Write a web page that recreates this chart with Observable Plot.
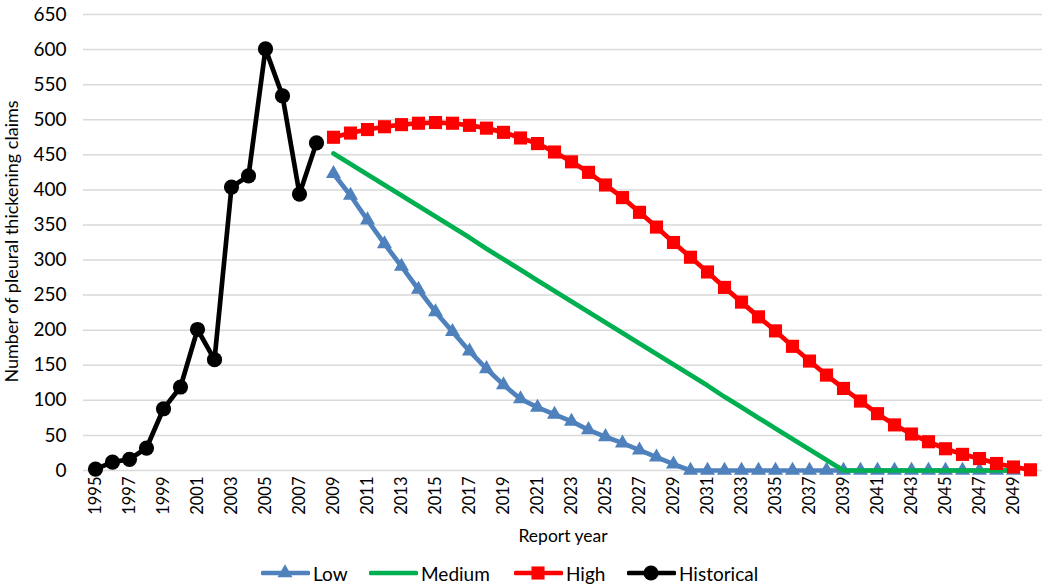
<!DOCTYPE html>
<html><head><meta charset="utf-8">
<script src="https://cdn.jsdelivr.net/npm/d3@7"></script>
<script src="https://cdn.jsdelivr.net/npm/@observablehq/plot@0.6"></script>
<style>
body{margin:0;background:#fff;font-family:Lato,sans-serif;}
#wrap{position:relative;width:1050px;height:588px;overflow:hidden;background:#fff;}
.leg{position:absolute;top:561px;display:flex;align-items:center;font-size:19px;color:#000;height:24px;}
.leg svg{margin-right:3px;}
</style></head><body><div id="wrap"></div>
<script>
const years = [1995,1996,1997,1998,1999,2000,2001,2002,2003,2004,2005,2006,2007,2008,2009,2010,2011,2012,2013,2014,2015,2016,2017,2018,2019,2020,2021,2022,2023,2024,2025,2026,2027,2028,2029,2030,2031,2032,2033,2034,2035,2036,2037,2038,2039,2040,2041,2042,2043,2044,2045,2046,2047,2048,2049,2050];
const xTickYears = [1995,1997,1999,2001,2003,2005,2007,2009,2011,2013,2015,2017,2019,2021,2023,2025,2027,2029,2031,2033,2035,2037,2039,2041,2043,2045,2047,2049];
const yTicks = [0,50,100,150,200,250,300,350,400,450,500,550,600,650];

const historicalYears = [1995,1996,1997,1998,1999,2000,2001,2002,2003,2004,2005,2006,2007,2008];
const historical = [2,12,16,32,88,119,201,158,404,420,601,534,394,467];

const lowYears = [2009,2010,2011,2012,2013,2014,2015,2016,2017,2018,2019,2020,2021,2022,2023,2024,2025,2026,2027,2028,2029,2030,2031,2032,2033,2034,2035,2036,2037,2038,2039,2040,2041,2042,2043,2044,2045,2046,2047,2048,2049];
const low = [423,392,357,323,291,258,226,198,170,145,122,102,90,80,70,58,48,39,29,19,9,0,0,0,0,0,0,0,0,0,0,0,0,0,0,0,0,0,0,0,0];
const medium = [452,437,422,407,392,377,362,347,332,316,301,286,271,256,241,226,211,196,181,166,151,136,121,105,90,75,60,45,30,15,0,0,0,0,0,0,0,0,0,0,0];

const highYears = [2009,2010,2011,2012,2013,2014,2015,2016,2017,2018,2019,2020,2021,2022,2023,2024,2025,2026,2027,2028,2029,2030,2031,2032,2033,2034,2035,2036,2037,2038,2039,2040,2041,2042,2043,2044,2045,2046,2047,2048,2049,2050];
const high = [475,481,486,490,493,495,496,495,492,488,482,474,466,454,440,425,407,389,368,347,325,304,283,261,240,219,199,177,156,136,117,99,81,65,52,41,31,23,17,10,5,1];

const seriesNames = ["Low","Medium","High","Historical"];
const seriesColors = ["#4f81bd","#00b050","#ff0000","#000000"];
const seriesSymbols = ["triangle",null,"square","circle"];
const seriesR = [5.6,0,7.4,7.6];

const rows = (name, ys, vs) => ys.map((y,i)=>({series:name, year:y, value:vs[i]}));
const lowRows = rows("Low", lowYears, low);
const medRows = rows("Medium", lowYears, medium);
const highRows = rows("High", highYears, high);
const histRows = rows("Historical", historicalYears, historical);

const lineOpts = {x:"year", y:"value", stroke:"series", strokeWidth:4.7, strokeLinejoin:"round", strokeLinecap:"round"};

const chart = Plot.plot({
  width:1050, height:555,
  marginLeft:83, marginRight:8, marginTop:14, marginBottom:85,
  style:{fontFamily:"Lato, sans-serif", fontSize:"16px", color:"#000", background:"#fff"},
  x:{type:"point", domain:years, padding:0.5, align:0.5},
  y:{domain:[0,650]},
  color:{domain:seriesNames, range:seriesColors},
  marks:[
    Plot.gridY(yTicks,{stroke:"#d9d9d9", strokeOpacity:1, strokeWidth:1.5}),
    Plot.axisY(yTicks,{tickSize:0, tickPadding:17, fontSize:19, label:null}),
    Plot.axisX(xTickYears,{tickSize:0, tickRotate:-90, tickPadding:6, fontSize:16.5, label:null, tickFormat:d=>String(d)}),
    Plot.text(["Number of pleural thickening claims"],{frameAnchor:"left", textAnchor:"middle", dx:-71, dy:-1, rotate:-90, fontSize:18}),
    Plot.text(["Report year"],{frameAnchor:"bottom", dy:71, fontSize:17.5}),
    Plot.line(lowRows, lineOpts),
    Plot.dot(lowRows,{x:"year", y:"value", fill:"series", symbol:"triangle", r:seriesR[0]}),
    Plot.line(medRows, lineOpts),
    Plot.line(highRows, lineOpts),
    Plot.dot(highRows,{x:"year", y:"value", fill:"series", symbol:"square", r:seriesR[2]}),
    Plot.line(histRows, lineOpts),
    Plot.dot(histRows,{x:"year", y:"value", fill:"series", symbol:"circle", r:seriesR[3]})
  ]
});
const wrap = document.getElementById("wrap");
wrap.appendChild(chart);

// legend
const legLeft = [261,369,514,627];
seriesNames.forEach((name,i)=>{
  const d = document.createElement("div");
  d.className = "leg";
  d.style.left = legLeft[i] + "px";
  const sym = seriesSymbols[i];
  let marker = "";
  if (sym) {
    const size = Math.PI*seriesR[i]*seriesR[i];
    const type = sym==="triangle"?d3.symbolTriangle:sym==="square"?d3.symbolSquare:d3.symbolCircle;
    marker = `<path transform="translate(24,12)" d="${d3.symbol(type,size)()}" fill="${seriesColors[i]}"/>`;
  }
  d.innerHTML = `<svg width="49" height="24"><line x1="2" x2="47" y1="12" y2="12" stroke="${seriesColors[i]}" stroke-width="4.7" stroke-linecap="round"/>${marker}</svg><span>${name}</span>`;
  wrap.appendChild(d);
});
</script></body></html>
